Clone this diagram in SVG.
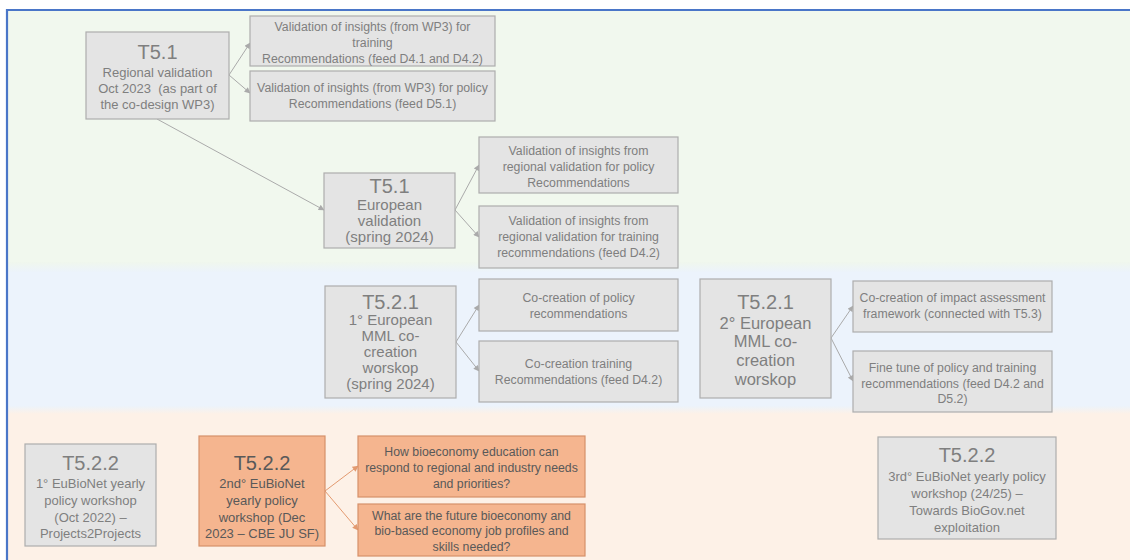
<svg xmlns="http://www.w3.org/2000/svg" width="1130" height="560" viewBox="0 0 1130 560">
<defs>
<style>
.box{fill:#e4e4e4;stroke:#adadad;stroke-width:1.2}
.obox{fill:#f5b58f;stroke:#d6916a;stroke-width:1.2}
text{font-family:"Liberation Sans",Arial,sans-serif;fill:#7f7f7f;text-anchor:middle}
.t{font-size:20px}
.ot{fill:#595959}
.b16{font-size:16.5px}
.b15{font-size:15px}
.b13{font-size:13px}
.s{font-size:12.3px}
.con{stroke:#aaaaaa;stroke-width:1;fill:none;marker-end:url(#ah)}
.ocon{stroke:#e39a70;stroke-width:1;fill:none;marker-end:url(#oah)}
</style>
<marker id="ah" viewBox="0 0 10 10" refX="9" refY="5" markerWidth="7" markerHeight="6" markerUnits="userSpaceOnUse" orient="auto"><path d="M0,0 L10,5 L0,10 z" fill="#aaaaaa"/></marker>
<marker id="oah" viewBox="0 0 10 10" refX="9" refY="5" markerWidth="7" markerHeight="6" markerUnits="userSpaceOnUse" orient="auto"><path d="M0,0 L10,5 L0,10 z" fill="#e39a70"/></marker>
<linearGradient id="g1" x1="0" y1="0" x2="0" y2="1"><stop offset="0" stop-color="#f0f7ed"/><stop offset="1" stop-color="#ecf3fb"/></linearGradient>
<linearGradient id="g2" x1="0" y1="0" x2="0" y2="1"><stop offset="0" stop-color="#ecf3fb"/><stop offset="1" stop-color="#fdf1e7"/></linearGradient>
</defs>
<g id="background">
<rect x="0" y="0" width="1130" height="560" fill="#ffffff"/>
<rect x="7" y="10" width="1123" height="260" fill="#f1f8ee"/>
<rect x="7" y="262" width="1123" height="10" fill="url(#g1)"/>
<rect x="7" y="272" width="1123" height="138" fill="#ecf3fc"/>
<rect x="7" y="406" width="1123" height="8" fill="url(#g2)"/>
<rect x="7" y="414" width="1123" height="146" fill="#fdf1e7"/>
<line x1="6" y1="10" x2="1130" y2="10" stroke="#4a76c8" stroke-width="2.2"/>
<line x1="7" y1="9" x2="7" y2="560" stroke="#4a76c8" stroke-width="2.2"/>
</g>
<g id="connectors">
<path class="con" d="M229,75 L250,43"/>
<path class="con" d="M229,75 L250,93"/>
<path class="con" d="M157,119 L324,210"/>
<path class="con" d="M455,210 L479,165"/>
<path class="con" d="M455,210 L479,237"/>
<path class="con" d="M456,342 L479,305"/>
<path class="con" d="M456,342 L479,371"/>
<path class="con" d="M831,338 L853,306"/>
<path class="con" d="M831,338 L853,381"/>
<path class="ocon" d="M325,491 L358,466"/>
<path class="ocon" d="M325,491 L358,530"/>
</g>
<g id="n-t51-regional">
<rect class="box" x="86" y="32" width="143" height="87"/>
<text class="t" x="157.5" y="59">T5.1</text>
<text class="b13" x="157.5" y="77">Regional validation</text>
<text class="b13" x="157.5" y="93" xml:space="preserve">Oct 2023  (as part of</text>
<text class="b13" x="157.5" y="109">the co-design WP3)</text>
</g>
<g id="n-val-training">
<rect class="box" x="250" y="16" width="245" height="50"/>
<text class="s" x="372.5" y="31">Validation of insights (from WP3) for</text>
<text class="s" x="372.5" y="47">training</text>
<text class="s" x="372.5" y="63">Recommendations (feed D4.1 and D4.2)</text>
</g>
<g id="n-val-policy">
<rect class="box" x="250" y="71" width="245" height="50"/>
<text class="s" x="372.5" y="92">Validation of insights (from WP3) for policy</text>
<text class="s" x="372.5" y="108">Recommendations (feed D5.1)</text>
</g>
<g id="n-t51-european">
<rect class="box" x="324" y="173" width="131" height="75"/>
<text class="t" x="389.5" y="193">T5.1</text>
<text class="b15" x="389.5" y="210">European</text>
<text class="b15" x="389.5" y="226">validation</text>
<text class="b15" x="389.5" y="242">(spring 2024)</text>
</g>
<g id="n-eu-policy">
<rect class="box" x="479" y="137" width="199" height="56"/>
<text class="s" x="578.5" y="155">Validation of insights from</text>
<text class="s" x="578.5" y="171">regional validation for policy</text>
<text class="s" x="578.5" y="187">Recommendations</text>
</g>
<g id="n-eu-training">
<rect class="box" x="479" y="206" width="199" height="62"/>
<text class="s" x="578.5" y="225">Validation of insights from</text>
<text class="s" x="578.5" y="241">regional validation for training</text>
<text class="s" x="578.5" y="257">recommendations (feed D4.2)</text>
</g>
<g id="n-t521-first">
<rect class="box" x="325" y="286" width="131" height="112"/>
<text class="t" x="390.5" y="309">T5.2.1</text>
<text class="b15" x="390.5" y="325">1° European</text>
<text class="b15" x="390.5" y="341">MML co-</text>
<text class="b15" x="390.5" y="357">creation</text>
<text class="b15" x="390.5" y="373">worskop</text>
<text class="b15" x="390.5" y="389">(spring 2024)</text>
</g>
<g id="n-cc-policy">
<rect class="box" x="479" y="279" width="199" height="52"/>
<text class="s" x="578.5" y="302">Co-creation of policy</text>
<text class="s" x="578.5" y="318">recommendations</text>
</g>
<g id="n-cc-training">
<rect class="box" x="479" y="341" width="199" height="61"/>
<text class="s" x="578.5" y="368">Co-creation training</text>
<text class="s" x="578.5" y="384">Recommendations (feed D4.2)</text>
</g>
<g id="n-t521-second">
<rect class="box" x="700" y="279" width="131" height="119"/>
<text class="t" x="765.5" y="309">T5.2.1</text>
<text class="b16" x="765.5" y="329">2° European</text>
<text class="b16" x="765.5" y="347">MML co-</text>
<text class="b16" x="765.5" y="366">creation</text>
<text class="b16" x="765.5" y="385">worskop</text>
</g>
<g id="n-cc-impact">
<rect class="box" x="853" y="281" width="199" height="51"/>
<text class="s" x="952.5" y="302">Co-creation of impact assessment</text>
<text class="s" x="952.5" y="318">framework (connected with T5.3)</text>
</g>
<g id="n-fine-tune">
<rect class="box" x="853" y="351" width="199" height="61"/>
<text class="s" x="952.5" y="372">Fine tune of policy and training</text>
<text class="s" x="952.5" y="388">recommendations (feed D4.2 and</text>
<text class="s" x="952.5" y="403">D5.2)</text>
</g>
<g id="n-t522-first">
<rect class="box" x="25" y="444" width="131" height="102"/>
<text class="t" x="90.5" y="470">T5.2.2</text>
<text class="b13" x="90.5" y="488">1° EuBioNet yearly</text>
<text class="b13" x="90.5" y="505">policy workshop</text>
<text class="b13" x="90.5" y="522">(Oct 2022) –</text>
<text class="b13" x="90.5" y="538">Projects2Projects</text>
</g>
<g id="n-t522-second">
<rect class="obox" x="199" y="436" width="126" height="110"/>
<text class="t ot" x="262" y="470">T5.2.2</text>
<text class="b13 ot" x="262" y="488">2nd° EuBioNet</text>
<text class="b13 ot" x="262" y="505">yearly policy</text>
<text class="b13 ot" x="262" y="522">workshop (Dec</text>
<text class="b13 ot" x="262" y="538">2023 – CBE JU SF)</text>
</g>
<g id="n-q1">
<rect class="obox" x="358" y="436" width="227" height="61"/>
<text class="s ot" x="471.5" y="456">How bioeconomy education can</text>
<text class="s ot" x="471.5" y="472">respond to regional and industry needs</text>
<text class="s ot" x="471.5" y="488">and priorities?</text>
</g>
<g id="n-q2">
<rect class="obox" x="358" y="504" width="227" height="52"/>
<text class="s ot" x="471.5" y="520">What are the future bioeconomy and</text>
<text class="s ot" x="471.5" y="535">bio-based economy job profiles and</text>
<text class="s ot" x="471.5" y="551">skills needed?</text>
</g>
<g id="n-t522-third">
<rect class="box" x="878" y="437" width="178" height="102"/>
<text class="t" x="967" y="462">T5.2.2</text>
<text class="b13" x="967" y="481">3rd° EuBioNet yearly policy</text>
<text class="b13" x="967" y="498">workshop (24/25) –</text>
<text class="b13" x="967" y="515">Towards BioGov.net</text>
<text class="b13" x="967" y="532">exploitation</text>
</g>
</svg>
